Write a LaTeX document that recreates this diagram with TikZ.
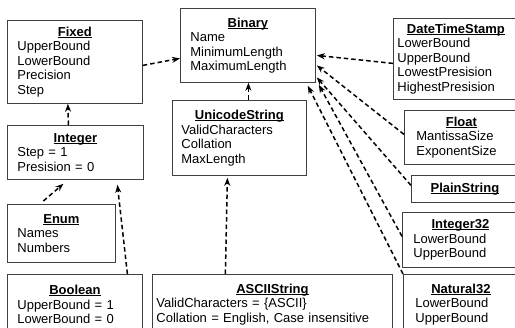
\documentclass[tikz,border=0pt]{standalone}
\usepackage{fontspec}
\setmainfont{Liberation Sans}
\usetikzlibrary{arrows.meta}

\newcommand{\classname}[1]{\makebox[\hsize]{%
    \setbox0\hbox{\textbf{#1}}\rlap{\rule[-1.8pt]{\wd0}{1pt}}\box0}}

\tikzset{
    classbox/.style={draw=black!75, line width=0.8pt, rectangle, anchor=north west,
        align=left, inner xsep=10pt, inner ysep=2pt,
        font=\fontsize{13}{14.5}\selectfont},
    inherits/.style={line width=1.5pt, dash pattern=on 4.5pt off 3pt,
        -{Stealth[length=8pt,width=6pt]}}
}

\begin{document}
\begin{tikzpicture}[x=1pt, y=-1pt]
    \useasboundingbox (0,0) rectangle (515,328);
    \clip (0,0) rectangle (515,328);

    \node[classbox, text width=115pt, minimum height=83pt] (fixed) at (7,20) {
        \classname{Fixed}\\
        UpperBound\\
        LowerBound\\
        Precision\\
        Step
    };
    \node[classbox, text width=115pt, minimum height=74pt] (binary) at (180,8) {
        \classname{Binary}\\
        Name\\
        MinimumLength\\
        MaximumLength
    };
    \node[classbox, inner xsep=4pt, text width=117pt, minimum height=81pt] (dts) at (393,18) {
        \classname{DateTimeStamp}\\
        LowerBound\\
        UpperBound\\
        LowestPresision\\
        HighestPresision
    };
    \node[classbox, inner xsep=9pt, text width=116pt, minimum height=75pt] (unicode) at (172,100) {
        \classname{UnicodeString}\\
        ValidCharacters\\
        Collation\\
        MaxLength
    };
    \node[classbox, text width=116pt, minimum height=54pt] (integer) at (7,125) {
        \classname{Integer}\\
        Step = 1\\
        Presision = 0
    };
    \node[classbox, text width=88pt, minimum height=58pt] (enum) at (7,204) {
        \classname{Enum}\\
        Names\\
        Numbers
    };
    \node[classbox, inner xsep=12pt, text width=90pt, minimum height=54pt] (float) at (404,110) {
        \classname{Float}\\
        MantissaSize\\
        ExponentSize
    };
    \node[classbox, text width=87pt, minimum height=27pt] (plain) at (411,175) {
        \classname{PlainString}
    };
    \node[classbox, inner xsep=11pt, text width=94pt, minimum height=55pt] (int32) at (402,212) {
        \classname{Integer32}\\
        LowerBound\\
        UpperBound
    };
    \node[classbox, text width=115pt, minimum height=60pt] (boolean) at (7,274) {
        \classname{Boolean}\\
        UpperBound = 1\\
        LowerBound = 0
    };
    \node[classbox, inner xsep=4pt, text width=232pt, minimum height=60pt] (ascii) at (152,274) {
        \classname{ASCIIString}\\
        ValidCharacters = \{ASCII\}\\
        Collation = English, Case insensitive
    };
    \node[classbox, inner xsep=12pt, text width=91pt, minimum height=60pt] (nat32) at (403,274) {
        \classname{Natural32}\\
        LowerBound\\
        UpperBound
    };

    % left column
    \draw[inherits] ([yshift=-3.5pt]fixed.east) -- ([yshift=-13pt]binary.west);
    \draw[inherits] ([xshift=-7pt]integer.north) -- ([xshift=-7pt]fixed.south);
    \draw[inherits] ([xshift=-18pt,yshift=3pt]enum.north) -- ([xshift=-12pt,yshift=-4pt]integer.south);
    \draw[inherits] ([xshift=52.5pt]boolean.north) -- ([xshift=42pt,yshift=-5pt]integer.south);

    % middle
    \draw[inherits] ([xshift=9pt]unicode.north) -- ([xshift=0.5pt]binary.south);
    \draw[inherits] ([xshift=-47pt]ascii.north) -- ([xshift=-12pt,yshift=-2pt]unicode.south);

    % right column
    \draw[inherits] ([yshift=-4.5pt]dts.west) -- ([xshift=1pt,yshift=-10pt]binary.east);
    \draw[inherits] ([yshift=3pt]float.west) -- ([xshift=1pt,yshift=-20pt]binary.east);
    \draw[inherits] ([yshift=3.5pt]plain.west) -- ([xshift=1pt,yshift=-32pt]binary.east);
    \draw[inherits] ([yshift=3.5pt]int32.west) -- ([xshift=3pt,yshift=-2pt]binary.south east);
    \draw[inherits] (nat32.north west) -- ([xshift=-8pt,yshift=-3pt]binary.south east);
\end{tikzpicture}
\end{document}
